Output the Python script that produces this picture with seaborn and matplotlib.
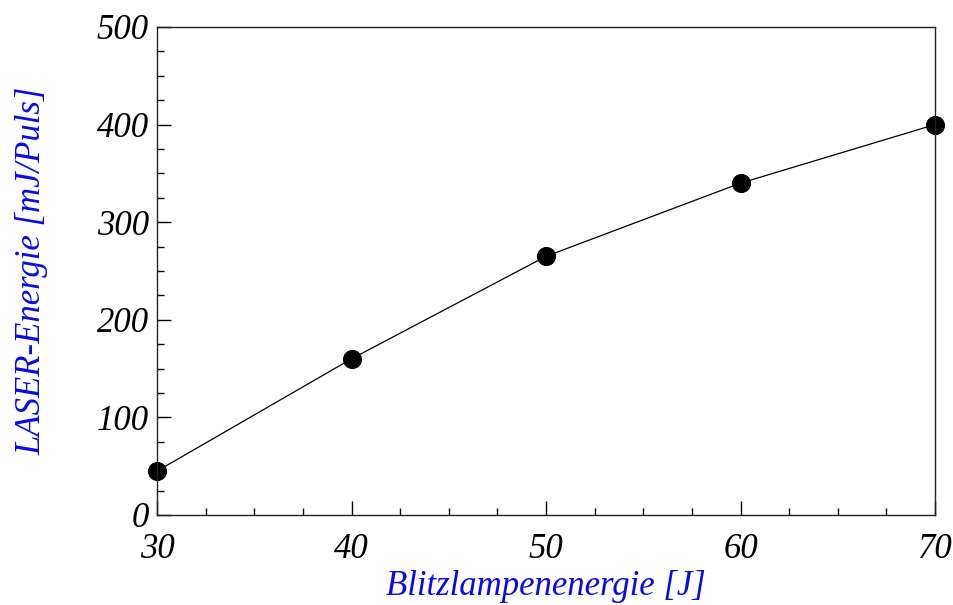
import matplotlib
matplotlib.use("Agg")
import matplotlib.pyplot as plt
import seaborn as sns
import pandas as pd
from matplotlib.ticker import MultipleLocator

# Flash-lamp energy vs. laser pulse energy
blitz_energie = [30, 40, 50, 60, 70]
laser_energie = [45, 160, 265, 340, 400]

x_ticks = [30, 40, 50, 60, 70]
y_ticks = [0, 100, 200, 300, 400, 500]

df = pd.DataFrame({"E_blitz": blitz_energie, "E_laser": laser_energie})

sns.set_style("ticks")
plt.rcParams["font.family"] = ["Liberation Serif", "DejaVu Serif"]
plt.rcParams["font.style"] = "italic"
plt.rcParams["xtick.color"] = "black"
plt.rcParams["ytick.color"] = "black"
plt.rcParams["xtick.labelcolor"] = "black"
plt.rcParams["ytick.labelcolor"] = "black"

fig = plt.figure(figsize=(9.54, 6.05), dpi=100)
ax = fig.add_axes([0.1646, 0.1488, 0.8155, 0.8066])

sns.lineplot(data=df, x="E_blitz", y="E_laser", ax=ax, color="black",
             linewidth=0.9, marker="o", markersize=13,
             markeredgecolor="black", markerfacecolor="black", clip_on=False)

ax.set_xlim(30, 70)
ax.set_ylim(0, 500)
ax.set_xticks(x_ticks)
ax.set_yticks(y_ticks)
ax.xaxis.set_minor_locator(MultipleLocator(2.5))
ax.yaxis.set_minor_locator(MultipleLocator(25))

ax.tick_params(which="major", direction="in", length=10, width=1,
               labelsize=25, top=False, right=False, colors="black")
ax.tick_params(which="minor", direction="in", length=5, width=1,
               top=False, right=False, colors="black")
ax.tick_params(axis="x", which="major", pad=13)
ax.tick_params(axis="y", which="major", pad=6)

for s in ax.spines.values():
    s.set_linewidth(1.0)
    s.set_color("#222222")
    s.set_visible(True)

for lbl in ax.get_xticklabels() + ax.get_yticklabels():
    lbl.set_fontstyle("italic")

ax.set_xlabel("Blitzlampenenergie [J]", fontsize=25, color="#0a0ae6",
              style="italic", labelpad=3)
ax.set_ylabel("LASER-Energie [mJ/Puls]", fontsize=25, color="#0a0ae6",
              style="italic", labelpad=35)

fig.savefig("out.png", dpi=100)
